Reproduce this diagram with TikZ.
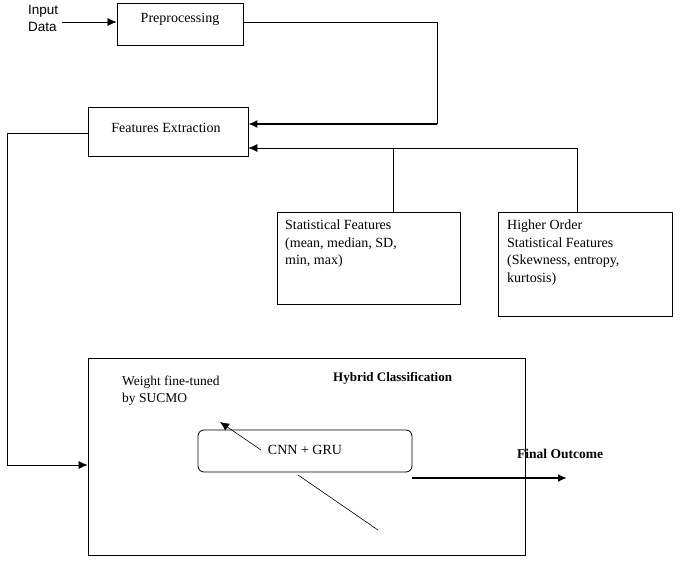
\documentclass[tikz,border=0pt]{standalone}
\usepackage{fontspec}
\setmainfont{Liberation Serif}
\newfontfamily\sansf{Liberation Sans}
\usetikzlibrary{arrows.meta}
\begin{document}
\begin{tikzpicture}[x=1pt,y=-1pt,
  box/.style={draw,line width=0.8pt,inner sep=0pt},
  ln/.style={line width=0.6pt},
  arr/.style={ln,-{Latex[length=9pt,width=8pt]}},
  txt/.style={font=\fontsize{14}{17.5}\selectfont,align=left,anchor=north west,inner sep=0pt}]
\useasboundingbox (0,0) rectangle (685,567);
\node[txt,font=\sansf\fontsize{13.5}{17}\selectfont] (in) at (28,5) {Input\\Data};
\node[box,minimum width=126pt,minimum height=42pt] (pre) at (180,24) {};
\node[txt,anchor=center] at (180,19) {Preprocessing};
\node[box,minimum width=160pt,minimum height=49pt] (fe) at (168,132) {};
\node[txt,anchor=center] at (166,128) {Features Extraction};
\node[box,minimum width=183pt,minimum height=92pt] (sf) at (368.5,258) {};
\node[txt] at (285,220) {Statistical Features\\(mean, median, SD,\\min, max)};
\node[box,minimum width=174pt,minimum height=104pt] (ho) at (585,264) {};
\node[txt] at (507,220) {Higher Order\\Statistical Features\\(Skewness, entropy,\\kurtosis)};
\node[box,minimum width=437pt,minimum height=197pt] (hy) at (306.5,456.5) {};
\node[txt,font=\bfseries\fontsize{13}{16}\selectfont] at (333,372) {Hybrid Classification};
\node[txt,font=\fontsize{13.5}{17}\selectfont] at (122,376) {Weight fine-tuned\\by SUCMO};
\node[draw,line width=0.8pt,rounded corners=6pt,minimum width=214pt,minimum height=42pt] (cnn) at (305,451) {};
\node[txt,anchor=center] at (305,450) {CNN + GRU};
\node[txt,font=\bfseries\fontsize{13.5}{16}\selectfont] (fo) at (517,449) {Final Outcome};
\coordinate (fo1) at (567,478);
\coordinate (a1) at (378,530);
\coordinate (a2) at (220,422);
\coordinate (g1) at (298,475);
\coordinate (g2) at (261,450);

\draw[ln] (a1) -- (g1);
\draw[arr] (g2) -- (a2);
\draw[arr] (62,22) -- (pre.west |- 0,22);
\draw[ln] (pre.east |- 0,22) -- (437,22) -- (437,124);
\draw[arr,line width=1.4pt] (437,124) -- (fe.east |- 0,124);
\draw[arr] (577,148) -- (fe.east |- 0,148);
\draw[ln] (393,148) -- (sf.north -| 393,0);
\draw[ln] (577,148) -- (ho.north -| 577,0);
\draw[ln] (fe.west |- 0,133) -- (7,133) -- (7,465);
\draw[arr] (7,465) -- (hy.west |- 0,465);
\draw[arr,line width=1.8pt] (cnn.east |- 0,478) -- (fo1);
\end{tikzpicture}
\end{document}
